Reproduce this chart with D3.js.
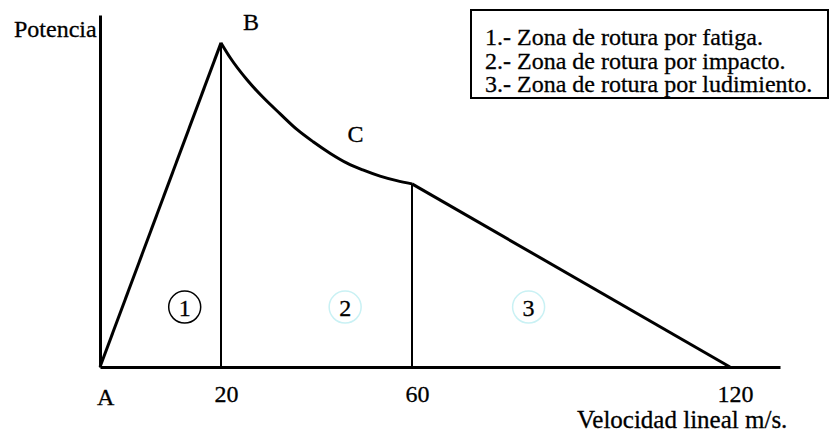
<!DOCTYPE html>
<html>
<head>
<meta charset="utf-8">
<script src="https://cdn.jsdelivr.net/npm/d3@7"></script>
<style>
  body { margin: 0; background: #fff; }
  svg { display: block; }
  text { font-family: "Liberation Serif", "Times New Roman", serif; fill: #000; stroke: #000; stroke-width: 0.3px; }
</style>
</head>
<body>
<svg id="chart"></svg>
<script>
// Power vs linear speed diagram: zones of failure (fatigue, impact, wear).

const svgWidth = 830;
const svgHeight = 434;

// data (speed in m/s, power in relative units)
const rampPoints = [[0, 0], [20, 100]];
const curvePoints = [
    [20, 100], [21.9, 95.5], [25.4, 88.7], [28.8, 83.2], [32.4, 78.1], [35.9, 73.3],
    [39.3, 69.5], [42.9, 65.9], [46.4, 62.9], [49.7, 60.8], [53.3, 58.9], [56.8, 57.5], [60, 56.5]
];
const tailPoints = [[60, 56.5], [120, 0]];
const dividerSpeeds = [20, 60];
const dividerPowers = [100, 56.5];
const tickValues = [20, 60, 120];
const tickLabels = ["20", "60", "120"];
const pointNames = ["A", "B", "C"];
const pointSpeeds = [0, 20, 46.5];
const pointPowers = [0, 100, 69.5];
const zoneNames = ["1", "2", "3"];
const zoneSpeeds = [14, 46, 82];
const zonePower = 18.5;
const legendItems = [
    "1.- Zona de rotura por fatiga.",
    "2.- Zona de rotura por impacto.",
    "3.- Zona de rotura por ludimiento."
];

// hand drawn axis: speed spacing is not uniform, so the scale is piecewise
const xScale = d3.scaleLinear()
    .domain([0, 20, 60, 120, 129.4])
    .range([100, 221, 412, 730, 780]);

const yScale = d3.scaleLinear()
    .domain([0, 108.6])
    .range([367, 15]);

const line = d3.line()
    .x(d => xScale(d[0]))
    .y(d => yScale(d[1]));

const smooth = d3.line()
    .x(d => xScale(d[0]))
    .y(d => yScale(d[1]))
    .curve(d3.curveMonotoneX);

const svg = d3.select("#chart")
    .attr("width", svgWidth)
    .attr("height", svgHeight);

// axes
const xAxis = svg.append("g")
    .attr("transform", `translate(0,${yScale(0)})`)
    .call(d3.axisBottom(xScale)
        .tickValues(tickValues)
        .tickFormat((d, i) => tickLabels[i])
        .tickSize(0));
xAxis.select(".domain").attr("stroke", "#000").attr("stroke-width", 3);
xAxis.selectAll("text")
    .attr("dy", null)
    .attr("y", 35)
    .attr("dx", 5)
    .attr("font-size", 24)
    .attr("font-family", null)
    .attr("fill", null);

const yAxis = svg.append("g")
    .attr("transform", `translate(${xScale(0)},0)`)
    .call(d3.axisLeft(yScale).tickValues([]).tickSizeOuter(0));
yAxis.select(".domain").attr("stroke", "#000").attr("stroke-width", 3);

// zone dividers
svg.selectAll(".divider")
    .data(dividerSpeeds)
    .join("line")
    .attr("class", "divider")
    .attr("x1", d => xScale(d))
    .attr("x2", d => xScale(d))
    .attr("y1", yScale(0))
    .attr("y2", (d, i) => yScale(dividerPowers[i]))
    .attr("stroke", "#000")
    .attr("stroke-width", 2);

// power curve
[rampPoints, tailPoints].forEach(pts => {
    svg.append("path")
        .datum(pts)
        .attr("fill", "none")
        .attr("stroke", "#000")
        .attr("stroke-width", 3)
        .attr("d", line);
});

svg.append("path")
    .datum(curvePoints)
    .attr("fill", "none")
    .attr("stroke", "#000")
    .attr("stroke-width", 3)
    .attr("d", smooth);

// circled zone numbers
const zones = svg.selectAll(".zone")
    .data(zoneNames)
    .join("g")
    .attr("class", "zone")
    .attr("transform", (d, i) => `translate(${xScale(zoneSpeeds[i])},${yScale(zonePower)})`);

zones.append("circle")
    .attr("r", 16)
    .attr("fill", "none")
    .attr("stroke", (d, i) => i === 0 ? "#000" : "#c9f1f4")
    .attr("stroke-width", 1.5);

zones.append("text")
    .attr("text-anchor", "middle")
    .attr("y", 9)
    .attr("font-size", 24)
    .text(d => d);

// point labels
const labelOffsets = { A: [-3, 38], B: [22, -13], C: [0, 0] };
svg.selectAll(".pt-label")
    .data(pointNames)
    .join("text")
    .attr("class", "pt-label")
    .attr("x", (d, i) => xScale(pointSpeeds[i]) + labelOffsets[d][0])
    .attr("y", (d, i) => yScale(pointPowers[i]) + labelOffsets[d][1])
    .attr("font-size", 24)
    .text(d => d);

// axis titles
svg.append("text")
    .attr("x", 14)
    .attr("y", 37)
    .attr("font-size", 24)
    .text("Potencia");

svg.append("text")
    .attr("x", 577)
    .attr("y", 428)
    .attr("font-size", 25)
    .text("Velocidad lineal m/s.");

// legend box
const legend = svg.append("g").attr("transform", "translate(471,10)");
legend.append("rect")
    .attr("width", 357)
    .attr("height", 88)
    .attr("fill", "#fff")
    .attr("stroke", "#000")
    .attr("stroke-width", 2);

legend.selectAll("text")
    .data(legendItems)
    .join("text")
    .attr("x", 14)
    .attr("y", (d, i) => 35 + i * 23.5)
    .attr("font-size", 24)
    .text(d => d);
</script>
</body>
</html>
